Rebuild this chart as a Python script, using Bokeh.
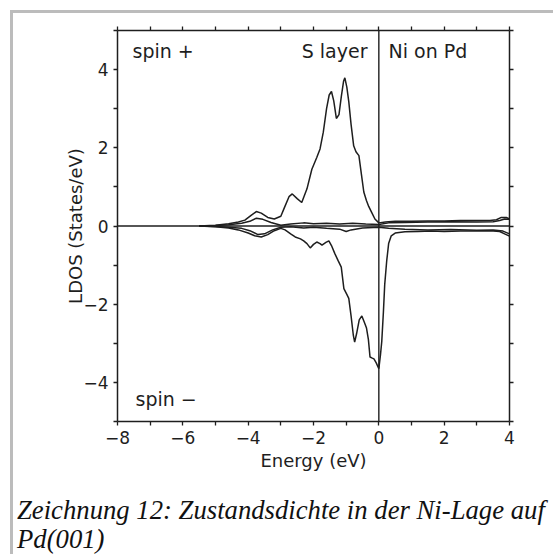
from bokeh.plotting import figure
from bokeh.layouts import column
from bokeh.models import Range1d, LinearAxis, FixedTicker, Span, Label, Div
from bokeh.embed import file_html
from bokeh.resources import INLINE

# ---------------- data ----------------
x_ticks = [-8, -6, -4, -2, 0, 2, 4]
x_tick_labels = ["−8", "−6", "−4", "−2", "0", "2", "4"]
x_minor = [-7, -5, -3, -1, 1, 3]
y_ticks = [-4, -2, 0, 2, 4]
y_tick_labels = ["−4", "−2", "0", "2", "4"]
y_minor = [-5, -3, -1, 1, 3, 5]

# spin + , main curve
up_main_E = [-5.5, -5.0, -4.6, -4.3, -4.1, -3.9, -3.75, -3.6, -3.4, -3.2, -3.0, -2.9, -2.75,
             -2.65, -2.5, -2.36, -2.2, -2.05, -1.9, -1.8, -1.7, -1.6, -1.52, -1.45, -1.38,
             -1.3, -1.22, -1.15, -1.08, -1.04, -0.98, -0.92, -0.85, -0.77, -0.7, -0.61,
             -0.53, -0.46, -0.38, -0.31, -0.22, -0.12, 0.0, 0.2, 0.5, 1.0, 1.5, 2.0, 2.5,
             3.0, 3.4, 3.6, 3.75, 3.9, 4.0]
up_main_V = [0.0, 0.02, 0.06, 0.1, 0.15, 0.28, 0.37, 0.33, 0.22, 0.18, 0.25, 0.45, 0.75,
             0.82, 0.7, 0.6, 0.95, 1.45, 1.75, 1.97, 2.4, 3.0, 3.35, 3.44, 3.2,
             2.75, 2.85, 3.3, 3.7, 3.79, 3.55, 3.18, 2.6, 2.05, 1.9, 1.8,
             1.3, 0.87, 0.65, 0.5, 0.35, 0.18, 0.08, 0.1, 0.12, 0.12, 0.13, 0.13, 0.14,
             0.14, 0.14, 0.16, 0.22, 0.22, 0.18]

# spin - , main curve
dn_main_E = [-5.5, -5.0, -4.6, -4.3, -4.0, -3.8, -3.6, -3.4, -3.2, -3.0, -2.87, -2.7, -2.56,
             -2.4, -2.3, -2.2, -2.1, -2.0, -1.9, -1.8, -1.74, -1.62, -1.53, -1.45, -1.35,
             -1.25, -1.15, -1.07, -0.98, -0.92, -0.85, -0.78, -0.74, -0.68, -0.6, -0.52,
             -0.45, -0.38, -0.32, -0.27, -0.2, -0.15, -0.08, 0.0, 0.05, 0.09, 0.14, 0.18,
             0.24, 0.3, 0.38, 0.5, 0.8, 1.2, 1.6, 2.0, 2.5, 3.0, 3.4, 3.7, 3.85, 4.0]
dn_main_V = [0.0, -0.02, -0.05, -0.1, -0.18, -0.25, -0.28, -0.22, -0.12, -0.06, -0.1, -0.2, -0.28,
             -0.33, -0.38, -0.45, -0.56, -0.47, -0.41, -0.45, -0.49, -0.42, -0.38, -0.5, -0.7,
             -0.88, -1.05, -1.6, -1.75, -1.85, -2.3, -2.8, -2.97, -2.75, -2.4, -2.3,
             -2.45, -2.6, -2.9, -3.35, -3.38, -3.4, -3.5, -3.65, -3.3, -2.95, -2.2, -1.5,
             -0.9, -0.45, -0.25, -0.18, -0.15, -0.14, -0.13, -0.14, -0.13, -0.13, -0.12, -0.14, -0.2, -0.26]

# small contributions near zero
up_small_E = [-5.5, -5.0, -4.6, -4.2, -3.95, -3.75, -3.55, -3.3, -3.0, -2.7, -2.3, -2.0, -1.6,
              -1.2, -0.8, -0.4, 0.0, 0.3, 0.8, 1.5, 2.2, 3.0, 3.5, 3.7, 3.85, 4.0]
up_small_V = [0.0, 0.01, 0.03, 0.07, 0.12, 0.2, 0.17, 0.09, 0.02, 0.05, 0.08, 0.06, 0.07,
              0.05, 0.07, 0.05, 0.04, 0.08, 0.09, 0.1, 0.11, 0.1, 0.11, 0.14, 0.18, 0.17]
dn_small_E = [-5.5, -5.0, -4.6, -4.2, -3.95, -3.7, -3.5, -3.25, -3.0, -2.7, -2.3, -2.0, -1.6,
              -1.2, -1.0, -0.85, -0.5, 0.0, 0.3, 0.8, 1.5, 2.2, 3.0, 3.5, 3.8, 4.0]
dn_small_V = [0.0, -0.01, -0.03, -0.06, -0.12, -0.22, -0.2, -0.1, -0.03, -0.02, -0.05, -0.03, -0.06,
              -0.08, -0.14, -0.1, -0.05, -0.03, -0.06, -0.08, -0.1, -0.09, -0.11, -0.1, -0.13, -0.2]

caption_lines = ["Zeichnung 12: Zustandsdichte in der Ni-Lage auf", "Pd(001)"]

INK = "#1e1e1e"
FONT = "DejaVu Sans"
GRAY = "#bcbcbc"
W, H1, H2 = 553, 494, 60

p = figure(width=W, height=H1, x_range=Range1d(-8, 4), y_range=Range1d(-5, 5),
           output_backend="svg", toolbar_location=None,
           min_border_left=117, min_border_right=44, min_border_top=30, min_border_bottom=H1 - 421,
           x_axis_label="Energy (eV)", y_axis_label="LDOS (States/eV)")
p.outline_line_color = None
p.xgrid.grid_line_color = None
p.ygrid.grid_line_color = None
p.background_fill_color = "white"
p.border_fill_color = None
p.styles = {
    "background-color": "white",
    "background-image": f"linear-gradient({GRAY}, {GRAY}), linear-gradient({GRAY}, {GRAY})",
    "background-size": "100% 3px, 3px 100%",
    "background-position": "10px 10px, 10px 10px",
    "background-repeat": "no-repeat",
}

bottom_ax = p.below[0]
left_ax = p.left[0]
top_ax = LinearAxis()
right_ax = LinearAxis()
p.add_layout(top_ax, "above")
p.add_layout(right_ax, "right")


def style_axis(ax, ticks, minor, labels, label_standoff=3):
    ax.ticker = FixedTicker(ticks=ticks, minor_ticks=minor)
    ax.axis_line_color = INK
    ax.axis_line_width = 1.5
    ax.major_tick_line_color = INK
    ax.minor_tick_line_color = INK
    ax.major_tick_line_width = 1.3
    ax.minor_tick_line_width = 1.3
    ax.major_tick_in = 0
    ax.major_tick_out = 4
    ax.minor_tick_in = 0
    ax.minor_tick_out = 4
    if labels is None:
        ax.major_label_text_color = None
    else:
        ax.major_label_overrides = {t: s for t, s in zip(ticks, labels)}
        ax.major_label_text_font = FONT
        ax.major_label_text_font_size = "17px"
        ax.major_label_text_color = INK
        ax.major_label_standoff = 5
        ax.axis_label_text_font = FONT
        ax.axis_label_text_font_size = "18px"
        ax.axis_label_text_font_style = "normal"
        ax.axis_label_text_color = INK
        ax.axis_label_standoff = label_standoff


style_axis(bottom_ax, x_ticks, x_minor, x_tick_labels, 3)
style_axis(left_ax, y_ticks, y_minor, y_tick_labels, -6)
style_axis(top_ax, x_ticks, x_minor, None)
style_axis(right_ax, y_ticks, y_minor, None)

# reference lines
p.add_layout(Span(location=0, dimension="width", line_color=INK, line_width=1.4))
p.add_layout(Span(location=0, dimension="height", line_color=INK, line_width=1.4))

for E, V in [(up_small_E, up_small_V), (dn_small_E, dn_small_V),
             (up_main_E, up_main_V), (dn_main_E, dn_main_V)]:
    p.line(E, V, line_color=INK, line_width=1.5)


# page-pixel -> data helpers for annotations
def dx(px):
    return -8 + (px - 117) * 12.0 / 392.0


def dy(py):
    return 5 - (py - 30) * 10.0 / 391.0


for txt, px, align in [("spin +", 132, "left"), ("S layer", 367, "right"), ("Ni on Pd", 388, "left")]:
    p.add_layout(Label(x=dx(px), y=dy(50), text=txt, text_font=FONT, text_font_size="19px",
                       text_color=INK, text_align=align, text_baseline="middle"))
p.add_layout(Label(x=dx(135), y=dy(398), text="spin −", text_font=FONT, text_font_size="19px",
                   text_color=INK, text_align="left", text_baseline="middle"))

# caption below the chart
caption_html = (
    "<div style=\"margin:0; padding:2px 0 0 17px; font-family:'Liberation Serif', serif; "
    "font-style:italic; font-size:26.7px; line-height:29px; color:#111111; "
    "white-space:nowrap;\">" + "<br>".join(caption_lines) + "</div>"
)
cap = Div(text=caption_html, width=W, height=H2, margin=0,
          styles={
              "background-color": "white",
              "background-image": f"linear-gradient({GRAY}, {GRAY})",
              "background-size": "3px 100%",
              "background-position": "10px 0px",
              "background-repeat": "no-repeat",
              "overflow": "hidden",
          })

layout = column(p, cap, spacing=0)
open("out.html", "w").write(file_html(layout, INLINE))
